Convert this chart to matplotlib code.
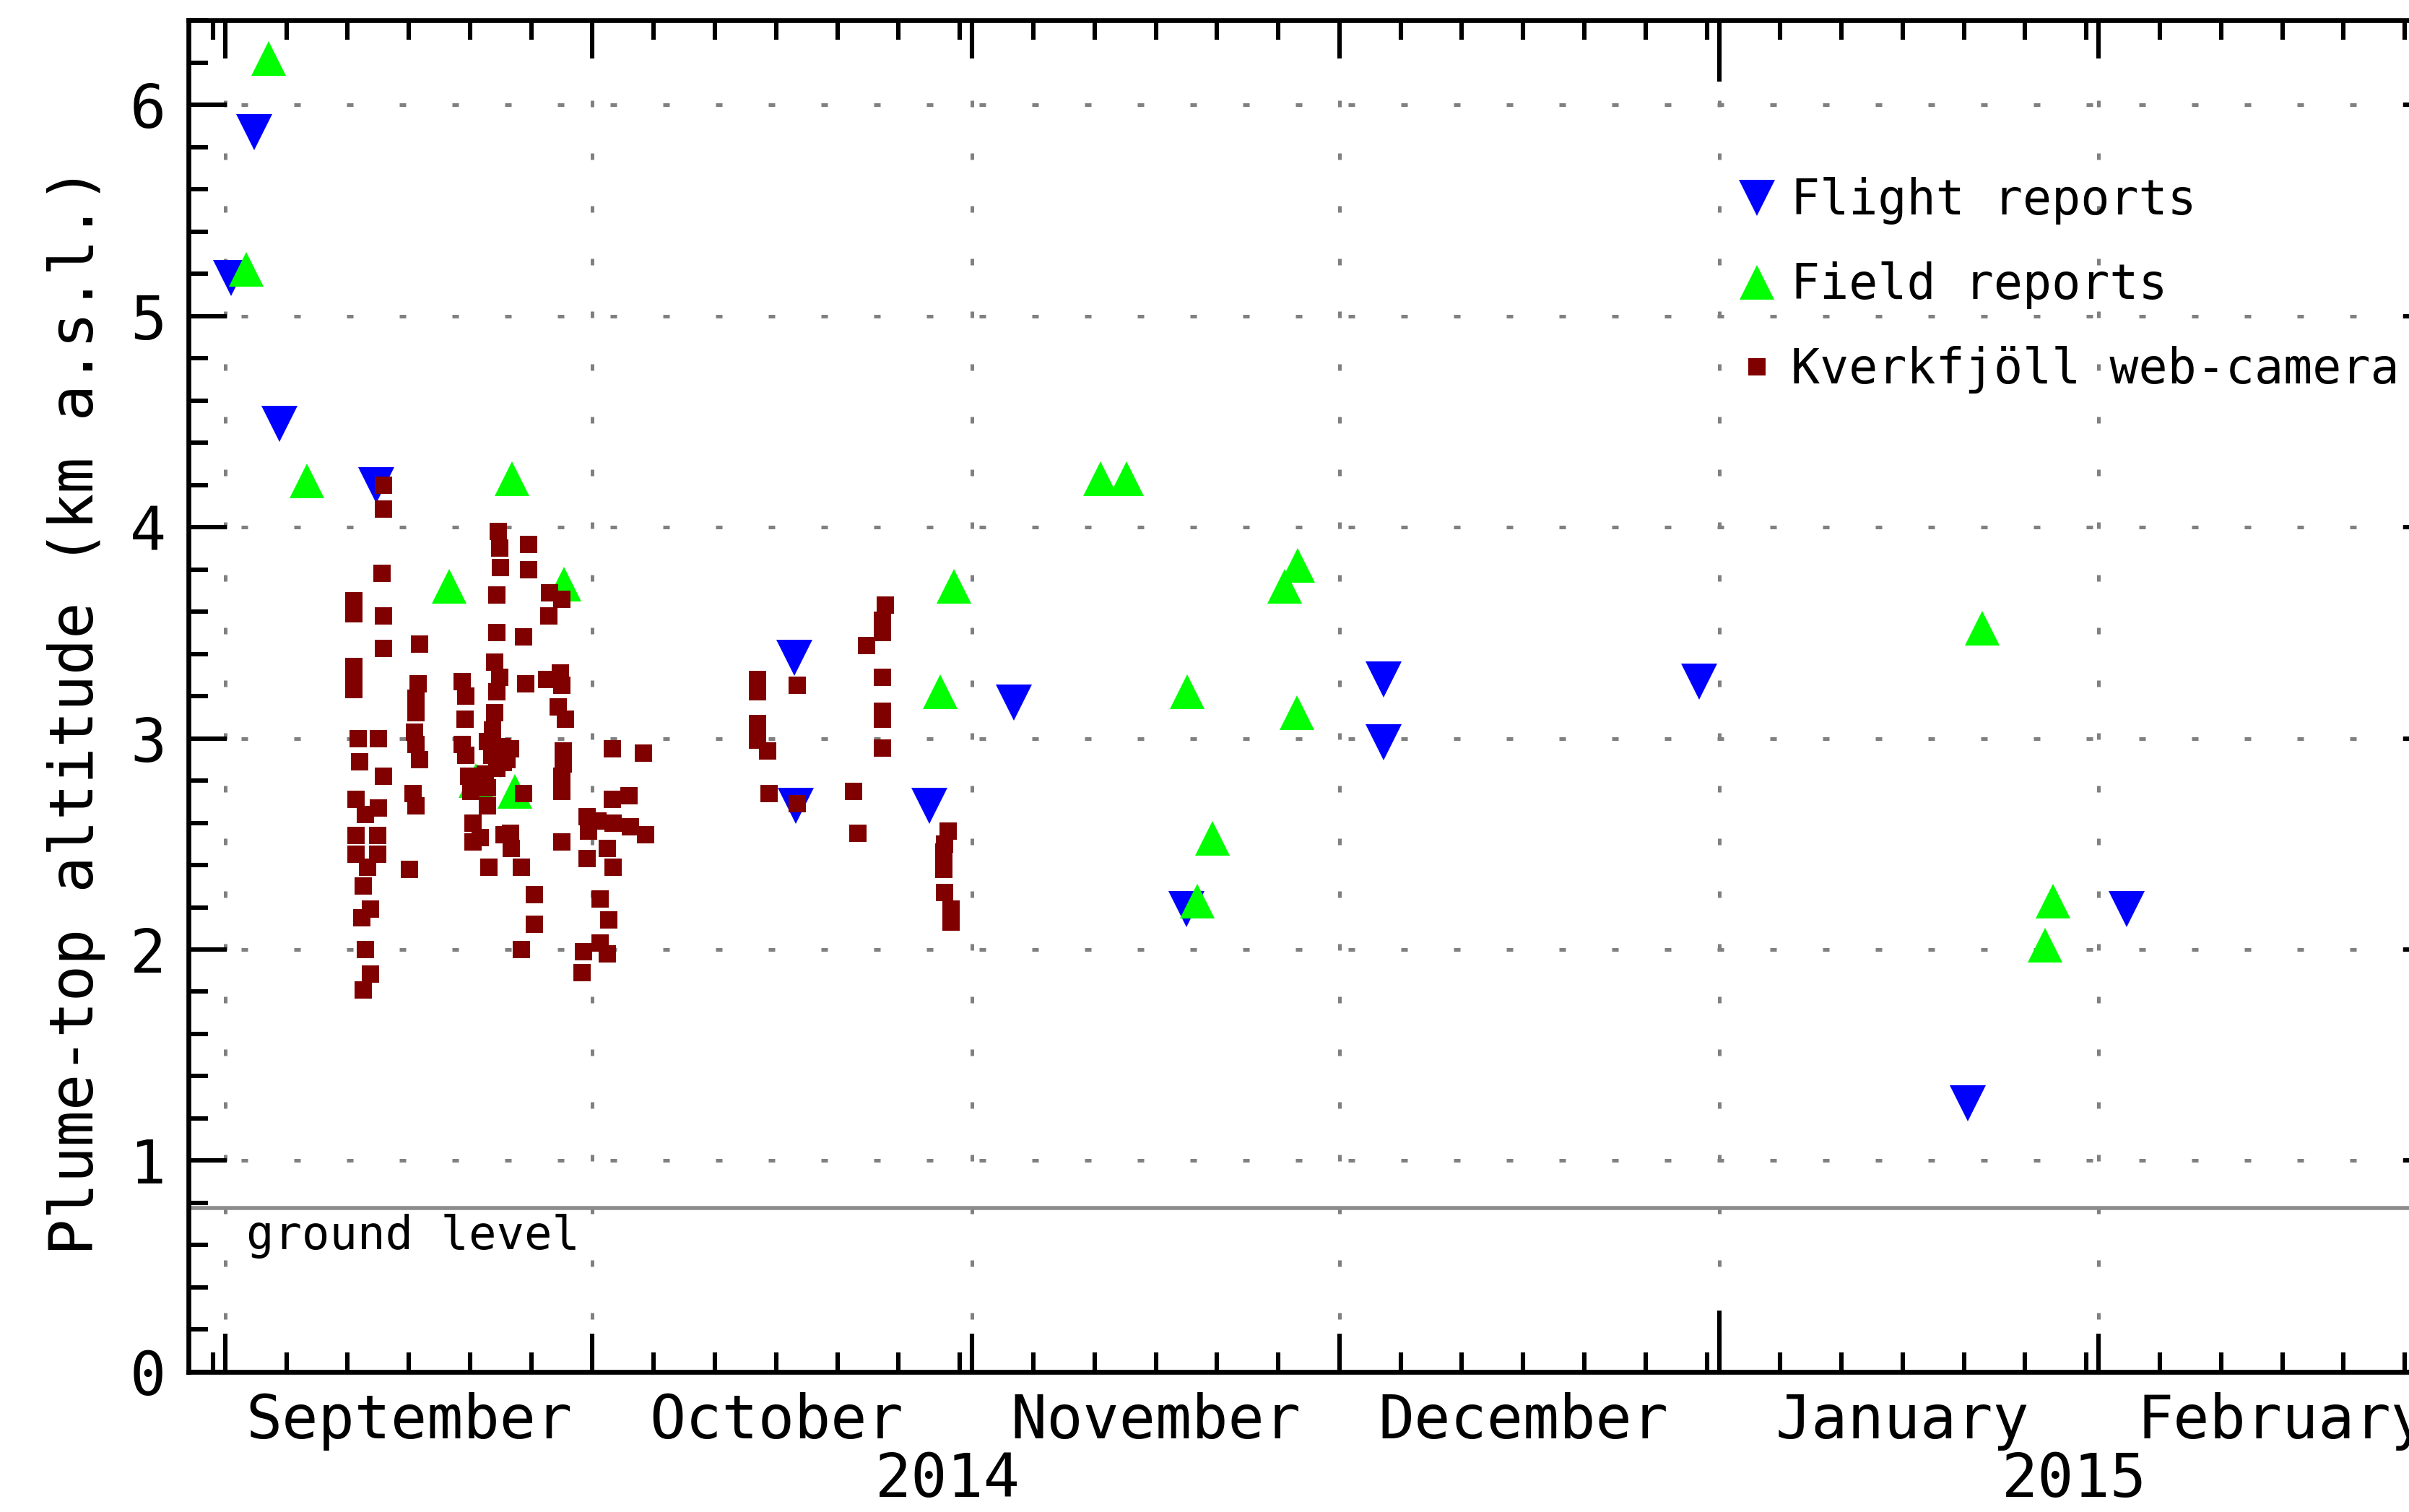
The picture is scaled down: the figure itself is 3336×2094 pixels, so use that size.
import numpy as np
import matplotlib
matplotlib.use("Agg")
import matplotlib.pyplot as plt
import matplotlib.dates as mdates
from matplotlib.ticker import MultipleLocator, NullFormatter, FuncFormatter

plt.rcParams['font.family'] = 'DejaVu Sans Mono'

# times are days after 1 September 2014, heights in km a.s.l.
start = np.datetime64('2014-09-01T00:00')

flight_day = [0.5, 2.35, 4.45, 12.35, 22.5, 46.5, 46.6, 57.5, 64.4, 78.5,
              94.6, 94.6, 120.4, 142.3, 155.3]
flight_km = [5.18, 5.87, 4.49, 4.20, 2.90, 3.38, 2.68, 2.68, 3.17, 2.19,
             3.28, 2.98, 3.27, 1.27, 2.19]

field_day = [1.7, 3.56, 6.65, 18.3, 20.45, 23.4, 23.68, 27.7, 58.4, 59.5,
             71.5, 73.6, 78.55, 79.4, 80.6, 86.5, 87.6, 87.5, 143.5, 148.6, 149.3]
field_km = [5.22, 6.22, 4.22, 3.72, 2.80, 4.23, 2.75, 3.73, 3.22, 3.72,
            4.23, 4.23, 3.22, 2.23, 2.525, 3.72, 3.82, 3.12, 3.52, 2.02, 2.23]

cam_day = [10.51, 10.51, 10.51, 10.51, 10.51, 10.86, 12.53, 10.96, 12.92, 10.67,
           12.53, 11.45, 10.67, 12.43, 10.67, 12.43, 11.65, 11.25, 11.84, 11.16,
           11.45, 11.84, 11.25,
           12.92, 12.92, 12.82, 12.92, 12.92,
           15.85, 15.75, 15.56, 15.56, 15.46, 15.56, 15.85, 15.36, 15.56, 15.07,
           19.38, 19.67, 19.57, 19.38, 19.67, 19.86, 20.06, 20.26, 20.26,
           22.31, 22.41, 22.51, 22.21, 22.21, 22.02, 22.41, 22.21, 22.02, 21.82,
           21.43, 21.23, 21.43, 21.43, 21.53, 22.80, 20.84,
           21.8, 22.6, 23.0, 22.7, 22.2, 23.3,
           24.8, 24.8, 24.37, 24.56, 24.37, 23.29, 23.39, 24.17, 25.25, 25.25, 24.17,
           26.52, 26.42, 27.50, 26.23, 27.40, 27.50, 27.20, 27.79, 27.60, 27.60,
           27.50, 27.50, 27.50,
           31.61, 34.15, 31.61, 32.98, 29.55, 30.43, 31.71, 33.08, 34.35, 29.65,
           29.55, 31.22, 31.71, 30.63, 31.31, 30.63, 29.26, 31.22, 29.16,
           43.5, 43.5, 43.5, 43.5, 44.3, 44.4, 46.7, 46.7,
           53.9, 53.7, 53.7, 52.4, 53.7, 53.7, 53.7, 53.7, 51.3, 51.7,
           59.06, 58.75, 58.7, 58.7, 58.7, 58.75, 59.3, 59.3]
cam_km = [3.65, 3.59, 3.34, 3.29, 3.23, 3.00, 3.00, 2.89, 2.82, 2.71,
          2.67, 2.64, 2.54, 2.54, 2.45, 2.45, 2.39, 2.30, 2.19, 2.15,
          2.00, 1.885, 1.81,
          4.20, 4.085, 3.78, 3.58, 3.425,
          3.445, 3.26, 3.19, 3.12, 3.03, 2.97, 2.90, 2.74, 2.68, 2.38,
          3.27, 3.20, 3.09, 2.97, 2.92, 2.82, 2.75, 2.60, 2.51,
          3.98, 3.90, 3.81, 3.68, 3.50, 3.36, 3.29, 3.22, 3.12, 3.04,
          2.985, 2.83, 2.765, 2.68, 2.39, 2.545, 2.53,
          2.92, 2.96, 2.90, 2.885, 2.86, 2.95,
          3.92, 3.80, 3.48, 3.26, 2.74, 2.55, 2.48, 2.39, 2.26, 2.12, 2.00,
          3.69, 3.58, 3.66, 3.28, 3.31, 3.25, 3.15, 3.09, 2.94, 2.88,
          2.82, 2.75, 2.51,
          2.95, 2.93, 2.71, 2.73, 2.63, 2.61, 2.60, 2.58, 2.545, 2.56,
          2.43, 2.48, 2.39, 2.24, 2.14, 2.03, 1.99, 1.98, 1.89,
          3.28, 3.22, 3.07, 2.99, 2.94, 2.74, 3.25, 2.69,
          3.63, 3.56, 3.50, 3.44, 3.29, 3.13, 3.09, 2.955, 2.75, 2.55,
          2.56, 2.50, 2.46, 2.41, 2.38, 2.27, 2.19, 2.13]

ground_km = 0.775
x_from = np.datetime64('2014-08-29')
x_to = np.datetime64('2015-03-01')


def to_dates(days):
    secs = np.round(np.array(days) * 86400).astype(np.int64)
    return start + secs.astype('timedelta64[s]')


fig = plt.figure(figsize=(16.68, 10.47), dpi=200)
ax = fig.add_axes([0.0782, 0.0927, 0.9353, 0.8938])

ax.plot(to_dates(flight_day), flight_km, 'v', color='#0000ff', ms=18, mew=0,
        label='Flight reports')
ax.plot(to_dates(field_day), field_km, '^', color='#00ff00', ms=17, mew=0,
        label='Field reports')
ax.plot(to_dates(cam_day), cam_km, 's', color='#800000', ms=8.5, mew=0,
        label='Kverkfjöll web-camera')

ax.axhline(ground_km, color='#8c8c8c', lw=2.0, zorder=1.8)
ax.annotate('ground level', xy=(0, ground_km), xycoords=('axes fraction', 'data'),
            xytext=(29, -20.5), textcoords='offset points', va='baseline',
            ha='left', fontsize=23)

ax.set_xlim(x_from, x_to)
ax.set_ylim(0, 6.4)

# extra long ticks at the turn of the year
ax2 = ax.twiny()
ax2.set_xlim(ax.get_xlim())
ax2.xaxis.set_major_locator(mdates.YearLocator())
ax2.xaxis.set_major_formatter(NullFormatter())
ax2.xaxis.set_minor_locator(matplotlib.ticker.NullLocator())
ax2.tick_params(axis='x', which='major', direction='in', top=True, bottom=True,
                length=30.6, width=2.2, labeltop=False, labelbottom=False)
for s in ax2.spines.values():
    s.set_visible(False)


def month_label(v, pos):
    d = mdates.num2date(v)
    return d.strftime('%B') if d.day == 16 else ''


ax.xaxis.set_major_locator(mdates.MonthLocator())
ax.xaxis.set_major_formatter(NullFormatter())
ax.xaxis.set_minor_locator(mdates.DayLocator(bymonthday=[6, 11, 16, 21, 26, 31]))
ax.xaxis.set_minor_formatter(FuncFormatter(month_label))
ax.yaxis.set_major_locator(MultipleLocator(1))
ax.yaxis.set_minor_locator(MultipleLocator(0.2))

ax.tick_params(which='both', direction='in', top=True, bottom=True, left=True,
               right=True, width=2.2, labeltop=False, labelright=False)
ax.tick_params(which='major', length=19)
ax.tick_params(which='minor', length=9.7)
ax.tick_params(axis='x', which='minor', pad=10, labelsize=30)
ax.tick_params(axis='y', which='major', pad=11, labelsize=30)

for s in ax.spines.values():
    s.set_linewidth(2.4)

ax.grid(True, which='major', color='#808080', lw=1.8, linestyle=(0, (1.8, 12.8)))

for yr in [2014, 2015]:
    lo = max(x_from, np.datetime64(f'{yr}-01-01'))
    hi = min(x_to, np.datetime64(f'{yr + 1}-01-01'))
    mid = lo + (hi - lo) / 2
    ax.annotate(str(yr), xy=(mid, 0), xycoords=('data', 'axes fraction'),
                xytext=(0, -39.4), textcoords='offset points', ha='center',
                va='top', fontsize=30)

ax.set_ylabel('Plume-top altitude (km a.s.l.)', fontsize=30)
ax.yaxis.set_label_coords(-0.0368, 0.4894)

ax.legend(loc='upper left', bbox_to_anchor=(2400 / 3336, 1 - 245 / 2094),
          bbox_transform=fig.transFigure, frameon=False, fontsize=24,
          handlelength=1.0, handletextpad=0.2, labelspacing=0.765,
          borderpad=0, borderaxespad=0, numpoints=1)

fig.savefig('out.png', dpi=200)
